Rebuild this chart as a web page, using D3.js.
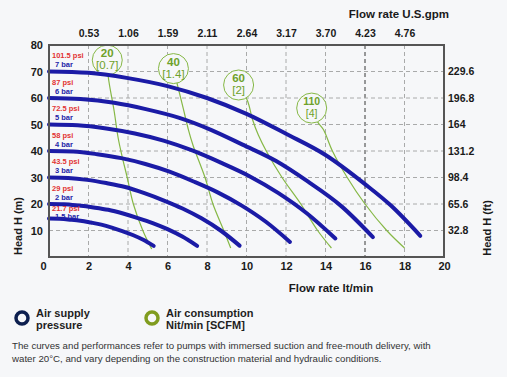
<!DOCTYPE html>
<html>
<head>
<meta charset="utf-8">
<script src="https://cdn.jsdelivr.net/npm/d3@7"></script>
<style>
  body { margin: 0; background: #f6f7f9; }
  svg { display: block; font-family: "Liberation Sans", Arial, sans-serif; }
</style>
</head>
<body>
<div id="curves"></div>
<script>
//chart data
var flowLpm = [0, 2, 4, 6, 8, 10, 12, 14, 16, 18, 20];
var flowGpm = ["0.53", "1.06", "1.59", "2.11", "2.64", "3.17", "3.70", "4.23", "4.76"];
var headM = [10, 20, 30, 40, 50, 60, 70, 80];
var headFt = ["32.8", "65.6", "98.4", "131.2", "164", "196.8", "229.6"];

var pressureBar = ["7 bar", "6 bar", "5 bar", "4 bar", "3 bar", "2 bar", "1.5 bar"];
var pressurePsi = ["101.5 psi", "87 psi", "72.5 psi", "58 psi", "43.5 psi", "29 psi", "21.7 psi"];

//head curves [flow lt/min, head m]
var bar7 = [[0,70],[2,69.5],[4,67.5],[6,64.5],[8,60],[10,54],[12,46.5],[14,38.5],[16,27.5],[17.3,19.5],[18.8,8]];
var bar6 = [[0,60],[1.6,59.6],[3.3,58.2],[4.9,55.8],[6.6,52.5],[8.2,48],[9.8,42.4],[11.5,36.2],[13.1,28.5],[14.8,19.2],[16.4,7.5]];
var bar5 = [[0,50],[1.45,49.7],[2.9,48.5],[4.35,46.6],[5.8,43.9],[7.25,40.2],[8.7,35.6],[10.15,30.5],[11.6,24.2],[13.05,16.5],[14.5,7]];
var bar4 = [[0,40],[1.22,39.8],[2.44,38.8],[3.66,37.3],[4.88,35.1],[6.1,32.2],[7.32,28.5],[8.54,24.4],[9.76,19.4],[10.98,13.3],[12.2,5.7]];
var bar3 = [[0,30],[0.97,29.8],[1.93,29.1],[2.9,27.9],[3.86,26.4],[4.83,24.1],[5.79,21.4],[6.76,18.3],[7.72,14.6],[8.69,10],[9.65,4.3]];
var bar2 = [[0,20],[0.75,19.9],[1.5,19.4],[2.25,18.7],[3,17.8],[3.75,16.4],[4.5,14.7],[5.25,12.8],[6,10.5],[6.75,7.7],[7.5,4.2]];
var bar15 = [[0,14.5],[0.53,14.4],[1.06,14.1],[1.59,13.7],[2.12,13],[2.65,12.2],[3.18,11.1],[3.71,9.8],[4.24,8.3],[4.77,6.5],[5.3,4.2]];
var pressureCurves = [bar7, bar6, bar5, bar4, bar3, bar2, bar15];

//air consumption lines, first point is the bubble
var air20 = [[2.95,74.3],[3.0,68],[3.3,55],[3.5,45],[3.7,38],[3.96,30],[4.27,20],[4.75,10],[5.2,3]];
var air40 = [[6.3,71.1],[6.5,65],[6.8,56],[7.06,48],[7.3,42],[7.9,30],[8.3,20],[8.85,10],[9.2,3.4]];
var air60 = [[9.6,64.9],[10.05,59],[10.3,52],[10.6,46],[11.0,40],[11.8,30],[12.75,20],[13.6,10],[14.3,3.4]];
var air110 = [[13.3,56.2],[13.6,51],[13.9,48],[14.35,40],[15.1,30],[16.0,20],[17.1,10],[18.0,3.4]];
var airCurves = [air20, air40, air60, air110];
var airNl = ["20", "40", "60", "110"];
var airScfm = ["[0.7]", "[1.4]", "[2]", "[4]"];

var blue = "#1b1ba6", green = "#86b846", greenText = "#6ea12a";

var svg = d3.select("div#curves").append("svg")
    .attr("width", 507)
    .attr("height", 377);

//scales
var x = d3.scaleLinear().domain([0, 20]).range([49, 444]);
var y = d3.scaleLinear().domain([0, 80]).range([257, 45]);

//grid
var grid = svg.append("g").attr("class", "grid");
grid.selectAll("line.v")
  .data(flowLpm.slice(1, -1))
  .enter().append("line")
    .attr("x1", function(d) { return x(d); })
    .attr("x2", function(d) { return x(d); })
    .attr("y1", y(80))
    .attr("y2", y(0))
    .attr("stroke", function(d) { return d === 16 ? "#222" : "#a0a0a0"; })
    .attr("stroke-width", 0.9)
    .attr("stroke-dasharray", "4,3");
grid.selectAll("line.h")
  .data(headM.slice(0, -1))
  .enter().append("line")
    .attr("x1", x(0))
    .attr("x2", x(20))
    .attr("y1", function(d) { return y(d); })
    .attr("y2", function(d) { return y(d); })
    .attr("stroke", "#a0a0a0")
    .attr("stroke-width", 0.9)
    .attr("stroke-dasharray", "4,3");

//air consumption lines
var airline = d3.line()
  .x(function(d) { return x(d[0]); })
  .y(function(d) { return y(d[1]); })
  .curve(d3.curveCatmullRom);

svg.selectAll("path.air")
  .data(airCurves)
  .enter().append("path")
    .attr("class", "air")
    .attr("d", airline)
    .attr("fill", "none")
    .attr("stroke", green)
    .attr("stroke-width", 1.2);

//bubbles
var bubble = svg.selectAll("g.bubble")
  .data(airCurves)
  .enter().append("g")
    .attr("class", "bubble")
    .attr("transform", function(d) { return "translate(" + x(d[0][0]) + "," + y(d[0][1]) + ")"; });
bubble.append("circle")
  .attr("r", 15)
  .attr("fill", "#f6f7f9")
  .attr("stroke", green)
  .attr("stroke-width", 1);
bubble.append("text")
  .attr("y", -3)
  .attr("text-anchor", "middle")
  .attr("font-size", function(d, i) { return i === 3 ? "10.5px" : "11.5px"; })
  .attr("font-weight", "bold")
  .attr("fill", greenText)
  .text(function(d, i) { return airNl[i]; });
bubble.append("text")
  .attr("y", 9)
  .attr("text-anchor", "middle")
  .attr("font-size", function(d, i) { return i === 3 ? "10.5px" : "11.5px"; })
  .attr("fill", greenText)
  .text(function(d, i) { return airScfm[i]; });

//head curves
var headline = d3.line()
  .x(function(d) { return x(d[0]); })
  .y(function(d) { return y(d[1]); })
  .curve(d3.curveMonotoneX);

svg.selectAll("path.head")
  .data(pressureCurves)
  .enter().append("path")
    .attr("class", "head")
    .attr("d", headline)
    .attr("fill", "none")
    .attr("stroke", blue)
    .attr("stroke-width", 4)
    .attr("stroke-linecap", "round");

//pressure labels
var last = pressureCurves.length - 1;
svg.selectAll("text.psi")
  .data(pressureCurves)
  .enter().append("text")
    .attr("x", 52)
    .attr("y", function(d, i) { return y(d[0][1]) - (i === last ? 10.5 : 16); })
    .attr("dy", "0.35em")
    .attr("font-size", "7.5px")
    .attr("font-weight", "bold")
    .attr("fill", "#e23232")
    .text(function(d, i) { return pressurePsi[i]; });
svg.selectAll("text.bar")
  .data(pressureCurves)
  .enter().append("text")
    .attr("x", 55)
    .attr("y", function(d, i) { return y(d[0][1]) - (i === last ? 2 : 7); })
    .attr("dy", "0.35em")
    .attr("font-size", "7.5px")
    .attr("font-weight", "bold")
    .attr("fill", "#2424a8")
    .text(function(d, i) { return pressureBar[i]; });

//frame
svg.append("rect")
  .attr("x", x(0))
  .attr("y", y(80))
  .attr("width", x(20) - x(0))
  .attr("height", y(0) - y(80))
  .attr("fill", "none")
  .attr("stroke", "#555")
  .attr("stroke-width", 2);

//axes
function styleAxis(g, size) {
  g.select(".domain").remove();
  g.selectAll("text")
    .attr("font-size", size)
    .attr("font-weight", "bold")
    .attr("fill", "#1a1a1a")
    .attr("font-family", "Liberation Sans, Arial, sans-serif");
}

svg.append("g")
  .attr("transform", "translate(0," + y(0) + ")")
  .call(d3.axisBottom(x).tickValues(flowLpm).tickFormat(d3.format("d")).tickSize(0).tickPadding(5))
  .call(styleAxis, "11px")
  .selectAll("text").filter(function(d) { return d === 0; }).attr("dx", "-6");

svg.append("g")
  .attr("transform", "translate(0," + y(80) + ")")
  .call(d3.axisTop(x).tickValues(flowLpm.slice(1, -1)).tickFormat(function(d, i) { return flowGpm[i]; }).tickSize(0).tickPadding(8))
  .call(styleAxis, "10.5px");

svg.append("g")
  .attr("transform", "translate(" + x(0) + ",0)")
  .call(d3.axisLeft(y).tickValues(headM).tickSize(0).tickPadding(6))
  .call(styleAxis, "11px");

svg.append("g")
  .attr("transform", "translate(" + x(20) + ",0)")
  .call(d3.axisRight(y).tickValues(headM.slice(0, -1)).tickFormat(function(d, i) { return headFt[i]; }).tickSize(0).tickPadding(4))
  .call(styleAxis, "10.5px");

//axis titles
svg.append("text")
  .attr("x", 449).attr("y", 18)
  .attr("text-anchor", "end")
  .attr("font-size", "11.5px").attr("font-weight", "bold").attr("fill", "#1a1a1a")
  .text("Flow rate U.S.gpm");
svg.append("text")
  .attr("x", 331).attr("y", 292)
  .attr("text-anchor", "middle")
  .attr("font-size", "11.5px").attr("font-weight", "bold").attr("fill", "#1a1a1a")
  .text("Flow rate lt/min");
svg.append("text")
  .attr("transform", "translate(22,226) rotate(-90)")
  .attr("text-anchor", "middle")
  .attr("font-size", "11px").attr("font-weight", "bold").attr("fill", "#1a1a1a")
  .text("Head H (m)");
svg.append("text")
  .attr("transform", "translate(491,228) rotate(-90)")
  .attr("text-anchor", "middle")
  .attr("font-size", "11px").attr("font-weight", "bold").attr("fill", "#1a1a1a")
  .text("Head H (ft)");

//legend
var legend = [
  {color: "#0d1f4f", x: 22, lines: ["Air supply", "pressure"]},
  {color: "#809c1f", x: 152, lines: ["Air consumption", "Nit/min [SCFM]"]}
];
var lg = svg.selectAll("g.legend")
  .data(legend)
  .enter().append("g")
    .attr("class", "legend")
    .attr("transform", function(d) { return "translate(" + d.x + ",318)"; });
lg.append("circle")
  .attr("r", 6)
  .attr("fill", "none")
  .attr("stroke", function(d) { return d.color; })
  .attr("stroke-width", 3.5);
lg.selectAll("text")
  .data(function(d) { return d.lines; })
  .enter().append("text")
    .attr("x", 14)
    .attr("y", function(d, i) { return -5 + i * 12; })
    .attr("dy", "0.35em")
    .attr("font-size", "11px")
    .attr("font-weight", "bold")
    .attr("fill", "#1e1e1e")
    .text(function(d) { return d; });

//footnote
var note = ["The curves and performances refer to pumps with immersed suction and free-mouth delivery, with",
            "water 20°C, and vary depending on the construction material and hydraulic conditions."];
svg.selectAll("text.note")
  .data(note)
  .enter().append("text")
    .attr("class", "note")
    .attr("x", 12)
    .attr("y", function(d, i) { return 349 + i * 12.5; })
    .attr("font-size", "9.7px")
    .attr("fill", "#333")
    .text(function(d) { return d; });
</script>
</body>
</html>
